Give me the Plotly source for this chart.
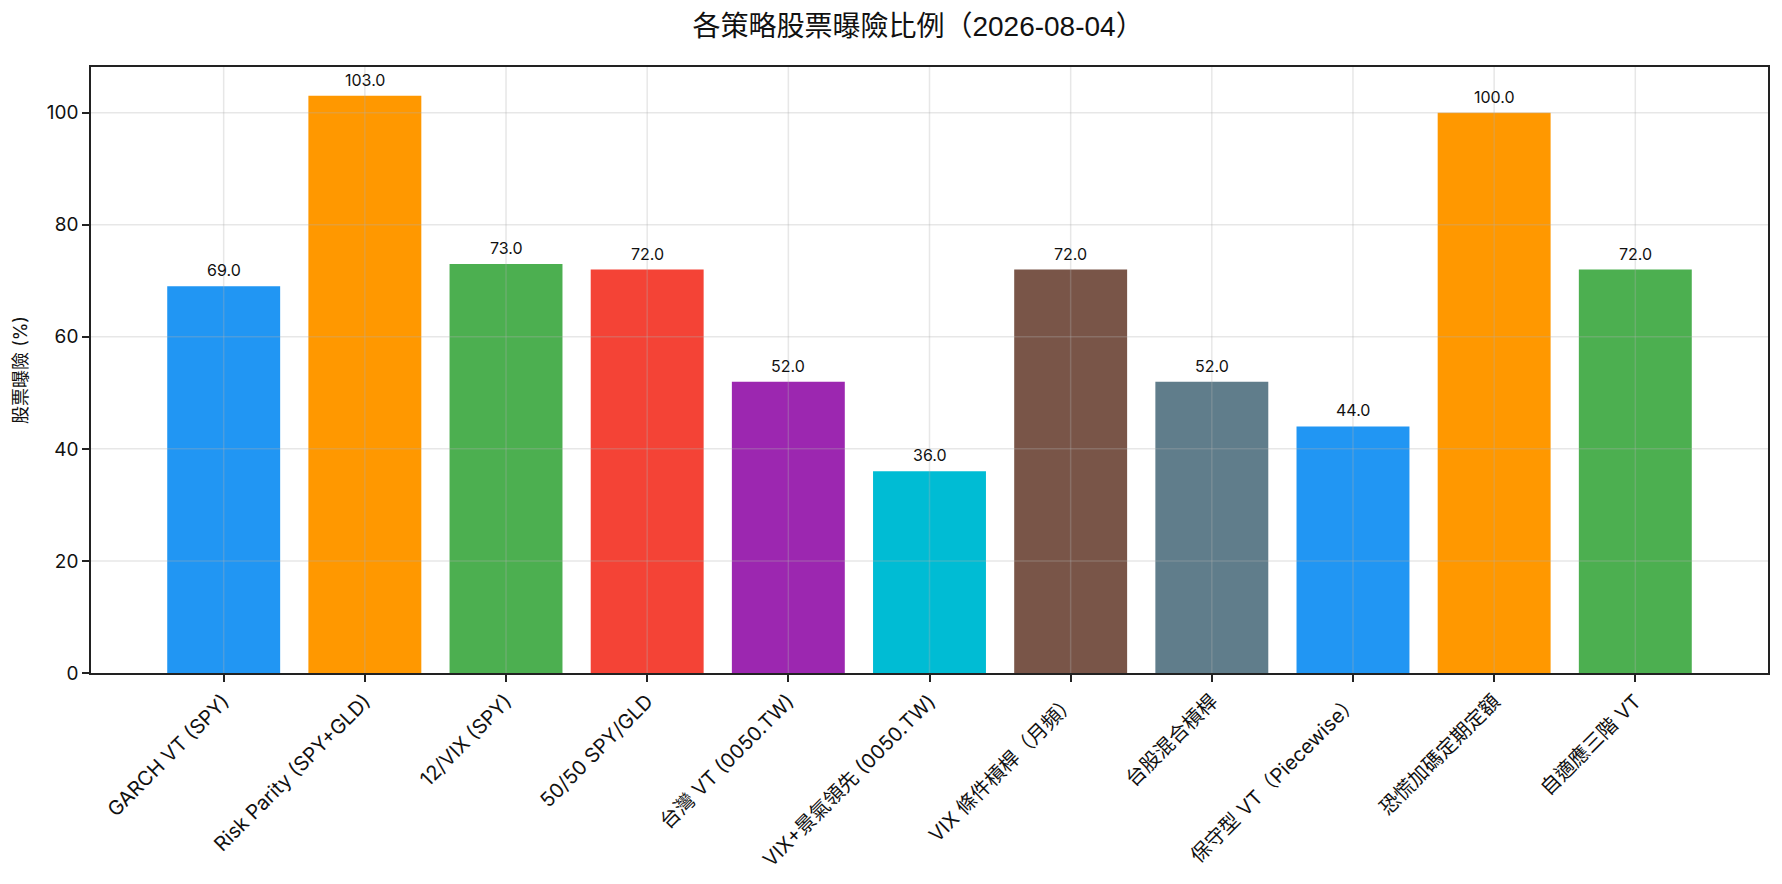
import plotly.graph_objects as go

strategies = [
    "GARCH VT (SPY)", "Risk Parity (SPY+GLD)", "12/VIX (SPY)", "50/50 SPY/GLD",
    "台灣 VT (0050.TW)", "VIX+景氣領先 (0050.TW)", "VIX 條件槓桿（月頻）", "台股混合槓桿",
    "保守型 VT（Piecewise）", "恐慌加碼定期定額", "自適應三階 VT",
]
exposure = [69, 103, 73, 72, 52, 36, 72, 52, 44, 100, 72]
bar_colors = [
    "#2196F3", "#FF9800", "#4CAF50", "#F44336", "#9C27B0", "#00BCD4",
    "#795548", "#607D8B", "#2196F3", "#FF9800", "#4CAF50",
]
y_ticks = [0, 20, 40, 60, 80, 100]
title = "各策略股票曝險比例（2026-08-04）"
font = "Inter, Noto Sans CJK TC, sans-serif"
grid = "rgba(176,176,176,0.3)"

x = list(range(len(strategies)))
fig = go.Figure(go.Bar(x=x, y=exposure, marker_color=bar_colors, marker_line_width=0, width=0.8))

for i, v in zip(x, exposure):
    fig.add_annotation(x=i, y=v, text=f"{v:.1f}", showarrow=False, yanchor="bottom",
                       yshift=4, font=dict(size=16, color="#111111", family=font))

# matplotlib draws the grid over the bars, so the grid is made of shapes above the traces
for i in x:
    fig.add_shape(type="line", layer="above", xref="x", yref="paper", x0=i, x1=i, y0=0, y1=1,
                  line=dict(color=grid, width=1.5))
for t in y_ticks[1:]:
    fig.add_shape(type="line", layer="above", xref="paper", yref="y", x0=0, x1=1, y0=t, y1=t,
                  line=dict(color=grid, width=1.5))

# the page body adds an 8px margin, so the figure is a bit smaller than the window
fig.update_layout(
    width=1774, height=876, plot_bgcolor="white", paper_bgcolor="white",
    margin=dict(l=83, r=14, t=59, b=211),
    title=dict(text=title, x=0.513, xanchor="center", y=0.979, yanchor="middle",
               font=dict(size=28, color="#111111", family="Liberation Sans, Noto Sans CJK TC")),
    font=dict(family=font, color="#111111"),
    showlegend=False,
)
fig.update_xaxes(
    range=[-0.94, 10.94], tickmode="array", tickvals=x, ticktext=strategies, tickangle=-45,
    tickfont=dict(size=20), showgrid=False,
    showline=True, linecolor="#222222", linewidth=1.6, mirror=True,
    ticks="outside", ticklen=7, tickwidth=1.6, tickcolor="#222222", zeroline=False,
)
fig.update_yaxes(
    range=[0, 108.15], tickmode="array", tickvals=y_ticks, tickfont=dict(size=19), showgrid=False,
    showline=True, linecolor="#222222", linewidth=1.6, mirror=True,
    ticks="outside", ticklen=7, tickwidth=1.6, tickcolor="#222222",
    zeroline=False, title=dict(text="股票曝險 (%)", font=dict(size=18), standoff=14),
)

fig.write_html("out.html")
